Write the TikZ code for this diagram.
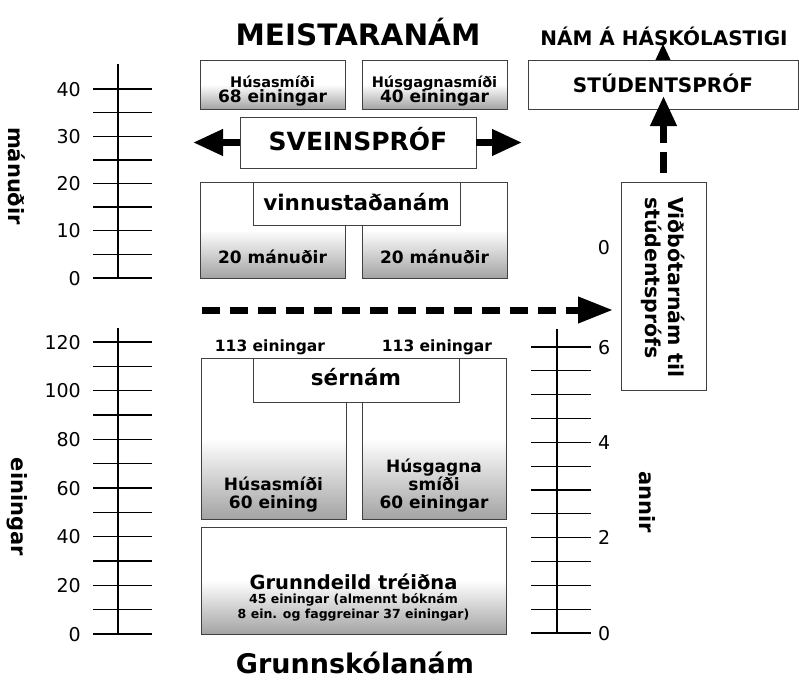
\documentclass[tikz,border=0pt]{standalone}
\usepackage{fontspec}
\setmainfont{DejaVu Sans}
\usetikzlibrary{arrows.meta,backgrounds}
\newcommand{\fsz}[2]{\fontsize{#1}{#2}\selectfont}
\begin{document}
\begin{tikzpicture}[x=1pt,y=-1pt,
  box/.style={draw=black!75, line width=0.9pt, inner sep=0pt, fill=white},
  shbox/.style={draw=black!75, line width=0.9pt, inner sep=0pt, top color=white, bottom color=black!36, middle color=white},
  scl/.style={line width=1.3pt, black},
  fat/.style={line width=7pt, -{Triangle[length=30pt,width=25pt]}},
  num/.style={font=\fsz{19}{22}, inner sep=0pt, anchor=base},
  txt/.style={font=\bfseries\fsz{17}{18}, inner sep=0pt, anchor=base},
  rlab/.style={font=\bfseries\fsz{21}{24}, inner sep=0pt, rotate=-90}]
\useasboundingbox (0,0) rectangle (799,680);

% titles
\node[font=\bfseries\fsz{29.5}{32}, inner sep=0pt, anchor=base] (mei) at (358,45) {MEISTARANÁM};
\node[font=\bfseries\fsz{20}{24}, inner sep=0pt, anchor=base] (hask) at (664,45) {NÁM Á HÁSKÓLASTIGI};

% top boxes
\node[shbox, minimum width=145, minimum height=49] (h1) at (272.5,84.5) {};
\node[shbox, minimum width=145, minimum height=49] (h2) at (434.5,84.5) {};
\node[txt, font=\bfseries\fsz{14.5}{16}] (h1a) at (272.5,87) {Húsasmíði};
\node[txt] (h1b) at (272.5,102) {68 einingar};
\node[txt, font=\bfseries\fsz{14.5}{16}] (h2a) at (434.5,87) {Húsgagnasmíði};
\node[txt] (h2b) at (434.5,102) {40 einingar};

% sveinsprof
\node[box, minimum width=236, minimum height=51] (svein) at (358,142.5) {};
\node[txt, font=\bfseries\fsz{25}{28}] (sveint) at (358,150) {SVEINSPRÓF};
\coordinate (sl) at (193,142.5);
\coordinate (sr) at (522,142.5);
\draw[fat] (svein.west) -- (sl);
\draw[fat] (svein.east) -- (sr);

% vinnustadanam
\node[shbox, minimum width=145, minimum height=96] (v1) at (272.5,230) {};
\node[shbox, minimum width=145, minimum height=96] (v2) at (434.5,230) {};
\node[box, minimum width=207, minimum height=43] (vl) at (356.5,203.5) {};
\node[txt, font=\bfseries\fsz{21.5}{24}] (vlt) at (356.5,210) {vinnustaðanám};
\node[txt] (v1t) at (272.5,263) {20 mánuðir};
\node[txt] (v2t) at (434.5,263) {20 mánuðir};

% studentsprof and vidbot
\node[box, minimum width=270, minimum height=49] (stud) at (663,84.5) {};
\node[txt, font=\bfseries\fsz{20}{24}] (studt) at (663,92) {STÚDENTSPRÓF};
\coordinate (hasktip) at (663,43);
\begin{scope}[on background layer]
  \draw[fat] (stud.center) -- (hasktip);
\end{scope}
\node[box, minimum width=85, minimum height=208] (vid) at (663.5,286) {};
\node[font=\bfseries\fsz{20.5}{23}, inner sep=0pt, rotate=-90, anchor=west, align=left] (vidt) at (663.5,197) {Viðbótarnám til\\stúdentsprófs};
\coordinate (studin) at (663.5,96);
\draw[fat, dash pattern=on 21pt off 9pt, dash phase=21pt] (vid.north) -- (studin);
\node[num] (z0) at (604,254) {0};

% dashed horizontal arrow
\coordinate (dst) at (202,310);
\coordinate (den) at (613,310);
\draw[fat, dash pattern=on 18pt off 10pt, -{Triangle[length=35pt,width=25pt]}] (dst) -- (den);

% left top scale (manudir)
\draw[scl] (118,64) -- (118,278);
\foreach \k in {0,...,8} \draw[scl] (93,{278-23.625*\k}) -- (152,{278-23.625*\k});
\foreach \k/\v in {0/0,2/10,4/20,6/30,8/40}
  \node[num, anchor=base east] (ma\k) at (81,{278-23.625*\k+7}) {\v};
\node[rlab] (manl) at (17,176) {mánuðir};

% left bottom scale (einingar)
\draw[scl] (118,328) -- (118,634);
\foreach \k in {0,...,12} \draw[scl] (93,{634-24.333*\k}) -- (152,{634-24.333*\k});
\foreach \k/\v in {0/0,2/20,4/40,6/60,8/80,10/100,12/120}
  \node[num, anchor=base east] (ei\k) at (81,{634-24.333*\k+7}) {\v};
\node[rlab] (einl) at (17,507) {einingar};

% right scale (annir)
\draw[scl] (557,329) -- (557,633);
\foreach \k in {0,...,12} \draw[scl] (531,{633-23.833*\k}) -- (591,{633-23.833*\k});
\foreach \k/\v in {0/0,4/2,8/4,12/6}
  \node[num, anchor=base west] (an\k) at (598,{633-23.833*\k+7}) {\v};
\node[rlab] (annl) at (647,502) {annir};

% sernam
\node[txt, font=\bfseries\fsz{15.5}{18}] (e1) at (270,351) {113 einingar};
\node[txt, font=\bfseries\fsz{15.5}{18}] (e2) at (437,351) {113 einingar};
\node[shbox, minimum width=145, minimum height=161] (s1) at (273.5,438.5) {};
\node[shbox, minimum width=144, minimum height=161] (s2) at (434,438.5) {};
\node[box, minimum width=206, minimum height=44] (sl2) at (356,380) {};
\node[txt, font=\bfseries\fsz{21.5}{24}] (slt) at (356,385) {sérnám};
\node[txt, align=center] (s1t) at (273.5,508) {Húsasmíði\\60 eining};
\node[txt, align=center] (s2t) at (434,508) {Húsgagna\\smíði\\60 einingar};

% grunndeild
\node[shbox, minimum width=305, minimum height=107] (gr) at (353.5,580.5) {};
\node[txt, font=\bfseries\fsz{19.5}{22}] (grt) at (353.5,589) {Grunndeild tréiðna};
\node[txt, font=\bfseries\fsz{12.5}{15}, align=center] (grs) at (353.5,618) {45 einingar (almennt bóknám\\8 ein. og faggreinar 37 einingar)};
\node[txt, font=\bfseries\fsz{27}{30}] (gsk) at (355,673) {Grunnskólanám};
\end{tikzpicture}
\end{document}
